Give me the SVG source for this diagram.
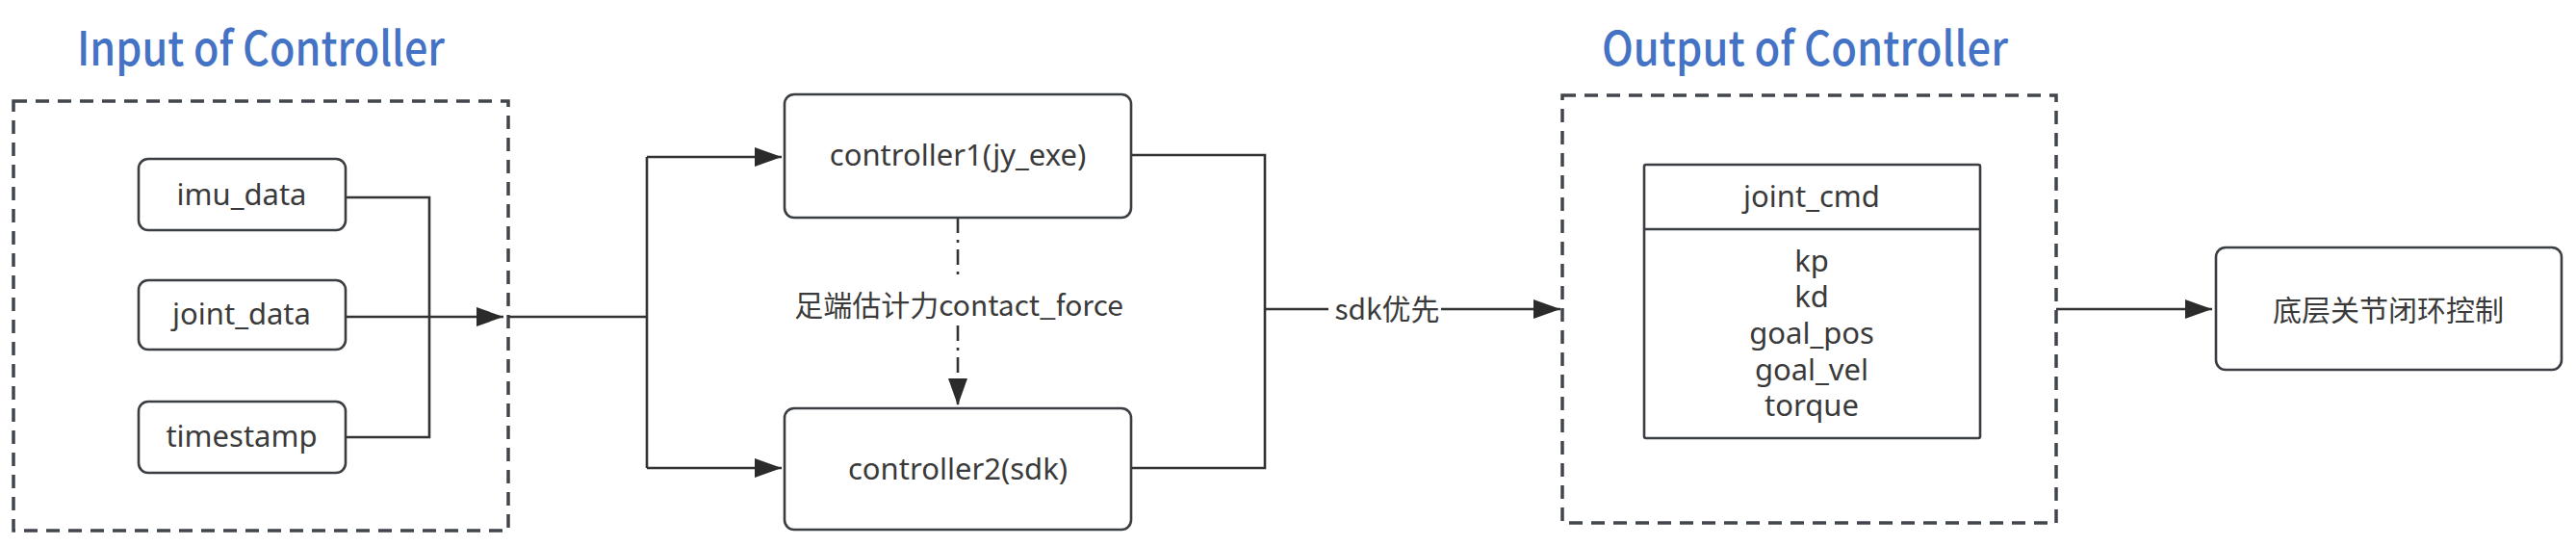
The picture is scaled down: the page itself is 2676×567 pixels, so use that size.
<svg xmlns="http://www.w3.org/2000/svg" width="2676" height="567" viewBox="0 0 2676 567">
<style>
.title{font-family:"Noto Sans CJK SC","Noto Sans",sans-serif;font-size:49px;font-weight:500;fill:#4472C4;}
.lbl{font-family:"Noto Sans","Noto Sans CJK SC",sans-serif;font-size:31px;fill:#3a3a3a;text-anchor:middle;}
.cjk{font-family:"Noto Sans CJK SC",sans-serif;font-size:30px;fill:#3a3a3a;text-anchor:middle;}
.node{fill:#fff;stroke:#3a3d42;stroke-width:2.6;}
.group{fill:none;stroke:#41464c;stroke-width:3.5;stroke-dasharray:14 9;}
.conn{fill:none;stroke:#333;stroke-width:2.6;}
.dashdot{fill:none;stroke:#333;stroke-width:2.6;stroke-dasharray:16 7 3 7;}
</style>
<defs>
<marker id="arr" markerUnits="userSpaceOnUse" markerWidth="28" markerHeight="20" refX="28" refY="10" orient="auto">
<path d="M0,0 L28,10 L0,20 z" fill="#2b2b2b"/>
</marker>
</defs>

<g id="input-group">
<text class="title" x="80" y="68" textLength="382" lengthAdjust="spacingAndGlyphs">Input of Controller</text>
<rect class="group" x="14" y="105" width="514" height="446"/>
</g>
<g id="output-group">
<text class="title" x="1664" y="68" textLength="422" lengthAdjust="spacingAndGlyphs">Output of Controller</text>
<rect class="group" x="1623" y="99" width="513" height="444"/>
</g>

<g id="connectors">
<path class="conn" d="M359 205 H446 V454 H359"/>
<path class="conn" d="M359 329 H523" marker-end="url(#arr)"/>
<path class="conn" d="M528 329 H672"/>
<path class="conn" d="M672 163 V486"/>
<path class="conn" d="M672 163 H812" marker-end="url(#arr)"/>
<path class="conn" d="M672 486 H812" marker-end="url(#arr)"/>
<path class="conn" d="M1175 161 H1314 V486 H1175"/>
<path class="conn" d="M1314 321 H1380"/>
<path class="conn" d="M1497 321 H1621" marker-end="url(#arr)"/>
<text class="cjk" x="1441" y="332">sdk优先</text>
<path class="dashdot" d="M995 226 V290"/>
<path class="dashdot" d="M995 338 V421" marker-end="url(#arr)"/>
<text class="cjk" x="996" y="328">足端估计力contact_force</text>
<path class="conn" d="M2136 321 H2298" marker-end="url(#arr)"/>
</g>

<g id="imu_data">
<rect class="node" x="144" y="165" width="215" height="74" rx="10"/>
<text class="lbl" x="251" y="213">imu_data</text>
</g>
<g id="joint_data">
<rect class="node" x="144" y="291" width="215" height="72" rx="10"/>
<text class="lbl" x="251" y="337">joint_data</text>
</g>
<g id="timestamp">
<rect class="node" x="144" y="417" width="215" height="74" rx="10"/>
<text class="lbl" x="251" y="464">timestamp</text>
</g>

<g id="controller1">
<rect class="node" x="815" y="98" width="360" height="128" rx="10"/>
<text class="lbl" x="995" y="172">controller1(jy_exe)</text>
</g>
<g id="controller2">
<rect class="node" x="815" y="424" width="360" height="126" rx="10"/>
<text class="lbl" x="995" y="498">controller2(sdk)</text>
</g>

<g id="joint_cmd">
<rect class="node" x="1708" y="171" width="349" height="284" rx="2"/>
<line class="node" x1="1708" y1="238" x2="2057" y2="238"/>
<text class="lbl" x="1882" y="215">joint_cmd</text>
<text class="lbl" x="1882" y="282">kp</text>
<text class="lbl" x="1882" y="319">kd</text>
<text class="lbl" x="1882" y="357">goal_pos</text>
<text class="lbl" x="1882" y="395">goal_vel</text>
<text class="lbl" x="1882" y="432">torque</text>
</g>

<g id="low-level-control">
<rect class="node" x="2302" y="257" width="359" height="127" rx="10"/>
<text class="cjk" x="2481" y="333">底层关节闭环控制</text>
</g>
</svg>
